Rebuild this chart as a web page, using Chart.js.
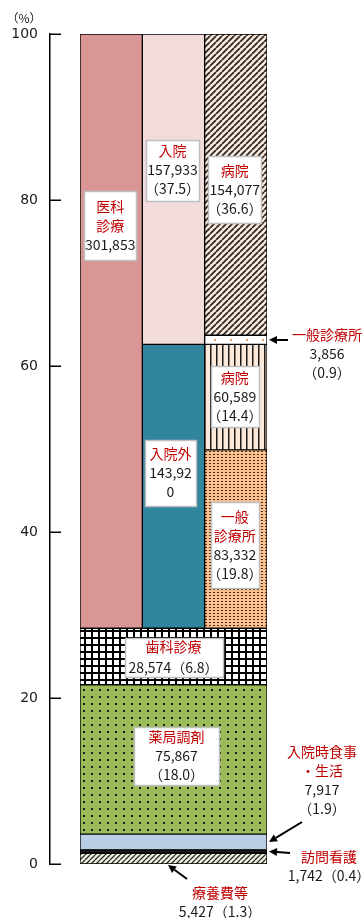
<!DOCTYPE html>
<html>
<head>
<meta charset="utf-8">
<script src="https://cdn.jsdelivr.net/npm/chart.js@4"></script>
<style>
  html, body { margin: 0; padding: 0; background: #fff; }
  #wrap { width: 364px; height: 918px; }
</style>
</head>
<body>
<div id="wrap"><canvas id="myChart" width="364" height="918"></canvas></div>
<script>
// 国民医療費の構成（億円、（　）内は構成割合 %）
const columnLabels = ['医科診療', '入院・入院外', '病院・一般診療所'];

const baseNames = ['療養費等', '訪問看護', '入院時食事・生活', '薬局調剤', '歯科診療'];
const baseAmounts = [5427, 1742, 7917, 75867, 28574];
const baseShares = [1.3, 0.4, 1.9, 18.0, 6.8];

const upperNames = ['医科診療', '入院外', '入院', '一般診療所', '病院', '一般診療所', '病院'];
const upperColumn = [0, 1, 1, 2, 2, 2, 2];
const upperAmounts = [301853, 143920, 157933, 83332, 60589, 3856, 154077];
const upperShares = [71.6, 34.1, 37.5, 19.8, 14.4, 0.9, 36.6];
// segment heights as drawn in the picture (the right column is not drawn to its labelled shares)
const upperHeights = [71.6, 34.2, 37.5, 21.5, 12.7, 1.1, 36.6];

const yTicks = [0, 20, 40, 60, 80, 100];

const RED = '#C00000';
const INK = '#1a1a1a';
const FONT = '14px "Noto Sans CJK JP"';

const ctx = document.getElementById('myChart');
const g2 = ctx.getContext('2d');

function tile(w, h, bg, paint) {
  const c = document.createElement('canvas');
  c.width = w; c.height = h;
  const t = c.getContext('2d');
  t.fillStyle = bg;
  t.fillRect(0, 0, w, h);
  paint(t, w, h);
  return g2.createPattern(c, 'repeat');
}
function slash(t, w, color, lw) {
  t.strokeStyle = color; t.lineWidth = lw;
  t.beginPath();
  for (const o of [-w, 0, w]) { t.moveTo(o, w); t.lineTo(o + w, 0); }
  t.stroke();
}

const baseFills = [
  tile(5, 5, '#EEF2E2', t => slash(t, 5, '#2b2b2b', 1.3)),
  '#1a1a1a',
  '#B9CDE5',
  tile(8, 7, '#9BBB59', t => { t.fillStyle = '#1a1a1a'; t.fillRect(3, 3, 2, 2); }),
  tile(7, 7, '#fff', t => { t.fillStyle = '#000'; t.fillRect(0, 0, 7, 2); t.fillRect(0, 0, 2, 7); })
];
const upperFills = [
  '#D99694',
  '#31859C',
  '#F2DCDB',
  tile(4, 3, '#FAC090', t => { t.fillStyle = '#4a2a10'; t.fillRect(1, 1, 2, 1); }),
  tile(6, 6, '#FDE9D9', t => { t.fillStyle = '#1a1a1a'; t.fillRect(0, 0, 1.5, 6); }),
  tile(16, 16, '#fff', t => { t.fillStyle = '#E8A060'; t.fillRect(6, 3, 2, 2); }),
  tile(6, 6, '#FDE9D9', t => slash(t, 6, '#2a2a2a', 1.8))
];

const common = {
  yAxisID: 'y',
  borderColor: '#000',
  borderWidth: 1,
  borderSkipped: false,
  grouped: false,
  barPercentage: 1,
  categoryPercentage: 1
};

let run = 0;
const baseSets = baseNames.map((name, i) => {
  const start = run;
  run += baseShares[i];
  return Object.assign({ label: name, xAxisID: 'xAll', data: [[start, run]], backgroundColor: baseFills[i] }, common);
});
const colRun = columnLabels.map(() => run);
const upperSets = upperNames.map((name, i) => {
  const c = upperColumn[i];
  const start = colRun[c];
  colRun[c] = start + upperHeights[i];
  const data = columnLabels.map((_, k) => k === c ? [start, Math.min(100, colRun[c])] : null);
  return Object.assign({ label: name, xAxisID: 'x', data, backgroundColor: upperFills[i] }, common);
});

const fmt = n => n.toLocaleString('en-US');
const pct = v => '（' + v.toFixed(1) + '）';
function amountOf(ds) { return ds < 5 ? baseAmounts[ds] : upperAmounts[ds - 5]; }
function shareOf(ds) { return ds < 5 ? baseShares[ds] : upperShares[ds - 5]; }
function barOf(chart, ds) {
  const meta = chart.getDatasetMeta(ds);
  return ds < 5 ? meta.data[0] : meta.data[upperColumn[ds - 5]];
}

// boxes inside the bars: y = box centre in %, w/h in px
const inBar = [
  { ds: 5, title: ['医科', '診療'], share: false, y: 76.9, w: 52, h: 69, dx: -1 },
  { ds: 7, title: ['入院'], y: 83.6, w: 53, h: 61, dx: -1 },
  { ds: 11, title: ['病院'], y: 81.3, w: 53, h: 67, dx: -1 },
  { ds: 9, title: ['病院'], y: 56.3, w: 48, h: 61, dx: -1 },
  { ds: 6, title: ['入院外'], share: false, split: 6, y: 47.1, w: 51, h: 66, dx: -3 },
  { ds: 8, title: ['一般', '診療所'], y: 38.4, w: 48, h: 86, dx: -1 },
  { ds: 4, title: ['歯科診療'], inline: true, y: 24.9, w: 98, h: 39, dx: 0 },
  { ds: 3, title: ['薬局調剤'], y: 13.0, w: 85, h: 58, dx: 3 }
];
// notes outside the bars, text centre in px, arrow tail in px
const notes = [
  { ds: 10, title: ['一般診療所'], x: 327, y: 335, tail: [288, 340], tip: 'right' },
  { ds: 2, title: ['入院時食事', '・生活'], x: 322, y: 752, tail: [302, 822], tip: 'right' },
  { ds: 1, title: ['訪問看護'], inline: true, x: 329, y: 857, tail: [290, 853], tip: 'right' },
  { ds: 0, title: ['療養費等'], inline: true, x: 220, y: 893, tail: [187, 879], tip: 'bottom' }
];

function linesFor(lb) {
  const amt = fmt(amountOf(lb.ds));
  const share = pct(shareOf(lb.ds));
  let black;
  if (lb.inline) black = [amt + share];
  else if (lb.split) black = [amt.slice(0, lb.split), amt.slice(lb.split)];
  else black = [amt];
  if (!lb.inline && lb.share !== false) black.push(share);
  return lb.title.map(s => [s, RED]).concat(black.map(s => [s, INK]));
}

function drawLines(c, lines, cx, cy, lh) {
  c.font = FONT;
  c.textAlign = 'center';
  c.textBaseline = 'middle';
  const top = cy - (lines.length - 1) * lh / 2;
  lines.forEach(([s, col], i) => {
    c.fillStyle = col;
    c.fillText(s, cx, top + i * lh);
  });
}

function arrow(c, x1, y1, x2, y2) {
  const a = Math.atan2(y2 - y1, x2 - x1);
  const hl = 8, hw = 4;
  c.strokeStyle = '#000';
  c.fillStyle = '#000';
  c.lineWidth = 2;
  c.beginPath();
  c.moveTo(x1, y1);
  c.lineTo(x2 - Math.cos(a) * hl, y2 - Math.sin(a) * hl);
  c.stroke();
  c.beginPath();
  c.moveTo(x2, y2);
  c.lineTo(x2 - Math.cos(a) * hl - Math.sin(a) * hw, y2 - Math.sin(a) * hl + Math.cos(a) * hw);
  c.lineTo(x2 - Math.cos(a) * hl + Math.sin(a) * hw, y2 - Math.sin(a) * hl - Math.cos(a) * hw);
  c.closePath();
  c.fill();
}

const annotate = {
  id: 'annotate',
  afterDraw(chart) {
    const c = chart.ctx;
    const ys = chart.scales.y;
    c.save();

    // inward tick marks
    c.strokeStyle = '#000';
    c.lineWidth = 1.5;
    yTicks.forEach(v => {
      const py = Math.round(ys.getPixelForValue(v)) + 0.25;
      c.beginPath();
      c.moveTo(ys.right, py);
      c.lineTo(ys.right + 11, py);
      c.stroke();
    });

    c.font = '12px "Noto Sans CJK JP"';
    c.fillStyle = INK;
    c.textAlign = 'center';
    c.textBaseline = 'middle';
    c.fillText('（%）', 24, 18);

    inBar.forEach(lb => {
      const bar = barOf(chart, lb.ds);
      const cx = bar.x + lb.dx;
      const cy = ys.getPixelForValue(lb.y);
      const x0 = Math.round(cx - lb.w / 2) + 0.5;
      const y0 = Math.round(cy - lb.h / 2) + 0.5;
      c.fillStyle = '#fff';
      c.fillRect(x0, y0, lb.w, lb.h);
      c.strokeStyle = '#BFBFBF';
      c.lineWidth = 1.5;
      c.strokeRect(x0, y0, lb.w, lb.h);
      drawLines(c, linesFor(lb), cx, cy, lb.inline ? 21 : 19);
    });

    notes.forEach(nt => {
      const lines = linesFor(nt);
      drawLines(c, lines, nt.x, nt.y + (lines.length - 1) * 19 / 2, 19);
      const bar = barOf(chart, nt.ds);
      let tx, ty;
      if (nt.tip === 'right') {
        tx = bar.x + bar.width / 2 + 2;
        ty = (bar.y + bar.base) / 2;
      } else {
        tx = bar.x - bar.width / 2 + 88;
        ty = bar.base + 1;
      }
      arrow(c, nt.tail[0], nt.tail[1], tx, ty);
    });
    c.restore();
  }
};

new Chart(ctx, {
  type: 'bar',
  data: {
    labels: columnLabels,
    datasets: baseSets.concat(upperSets)
  },
  options: {
    responsive: false,
    animation: false,
    layout: { padding: { left: 0, top: 34, right: 97, bottom: 54 } },
    plugins: {
      legend: { display: false },
      tooltip: { enabled: false }
    },
    scales: {
      y: {
        position: 'left',
        weight: 10,
        min: 0,
        max: 100,
        afterBuildTicks: s => { s.ticks = yTicks.map(v => ({ value: v })); },
        afterFit: s => { s.width = 50; },
        grid: { display: false, drawTicks: false },
        border: { display: true, color: '#000', width: 1.5 },
        ticks: {
          padding: 12,
          color: INK,
          font: { family: 'DejaVu Sans', size: 14 }
        }
      },
      yPad: {
        position: 'left',
        weight: 0,
        min: 0,
        max: 1,
        afterFit: s => { s.width = 30; },
        grid: { display: false, drawTicks: false },
        border: { display: false },
        ticks: { display: false }
      },
      x: { type: 'category', labels: columnLabels, display: false },
      xAll: { type: 'category', labels: ['総計'], display: false }
    }
  },
  plugins: [annotate]
});
</script>
</body>
</html>
